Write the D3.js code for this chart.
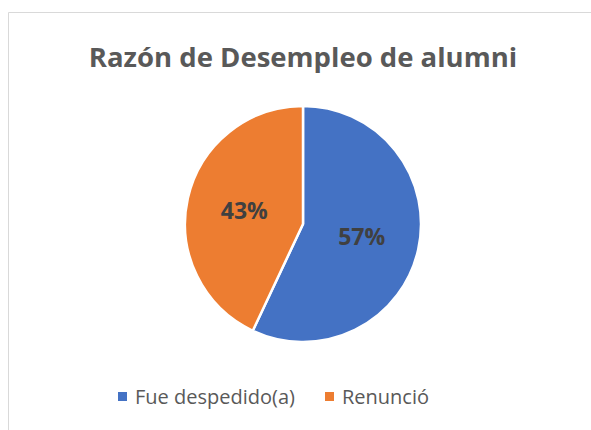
<!DOCTYPE html>
<html><head><meta charset="utf-8">
<script src="https://cdn.jsdelivr.net/npm/d3@7"></script>
<style>body{margin:0;background:#fff;}svg{display:block;}</style>
</head><body>
<svg id="c" width="591" height="430"></svg>
<script>
const title = "Razón de Desempleo de alumni";
const categories = ["Fue despedido(a)", "Renunció"];
const values = [57, 43];
const colors = ["#4472C4", "#ED7D31"];

const svg = d3.select("#c");
const font = "'Open Sans', 'Segoe UI', sans-serif";
// frame
svg.append("path").attr("d", "M8.5,430 V12.5 H591").attr("fill", "none").attr("stroke", "#d9d9d9").attr("stroke-width", 1);

svg.append("text").attr("x", 303).attr("y", 67).attr("text-anchor", "middle")
  .attr("font-family", font).attr("font-weight", "bold").attr("font-size", 27.5)
  .attr("fill", "#595959").text(title);

const cx = 303, cy = 224, r = 118;
const pie = d3.pie().sort(null)(values);
const arc = d3.arc().innerRadius(0).outerRadius(r);
const g = svg.append("g").attr("transform", `translate(${cx},${cy})`);
g.selectAll("path").data(pie).join("path").attr("d", arc)
  .attr("fill", (d, i) => colors[i]).attr("stroke", "#fff").attr("stroke-width", 2.5).attr("stroke-linejoin", "round");

const labelArc = d3.arc().innerRadius(r * 0.51).outerRadius(r * 0.51);
g.selectAll("text").data(pie).join("text")
  .attr("transform", d => `translate(${labelArc.centroid(d)})`)
  .attr("text-anchor", "middle").attr("dy", "0.36em")
  .attr("font-family", font).attr("font-weight", "bold").attr("font-size", 23)
  .attr("fill", "#404040").text(d => d.data + "%");

const lx = [118, 325];
const lg = svg.append("g");
categories.forEach((c, i) => {
  lg.append("rect").attr("x", lx[i]).attr("y", 392).attr("width", 9).attr("height", 9).attr("fill", colors[i]);
  lg.append("text").attr("x", lx[i] + 17).attr("y", 404).attr("font-family", font).attr("font-size", 20)
    .attr("fill", "#595959").text(c);
});
</script>
</body></html>
